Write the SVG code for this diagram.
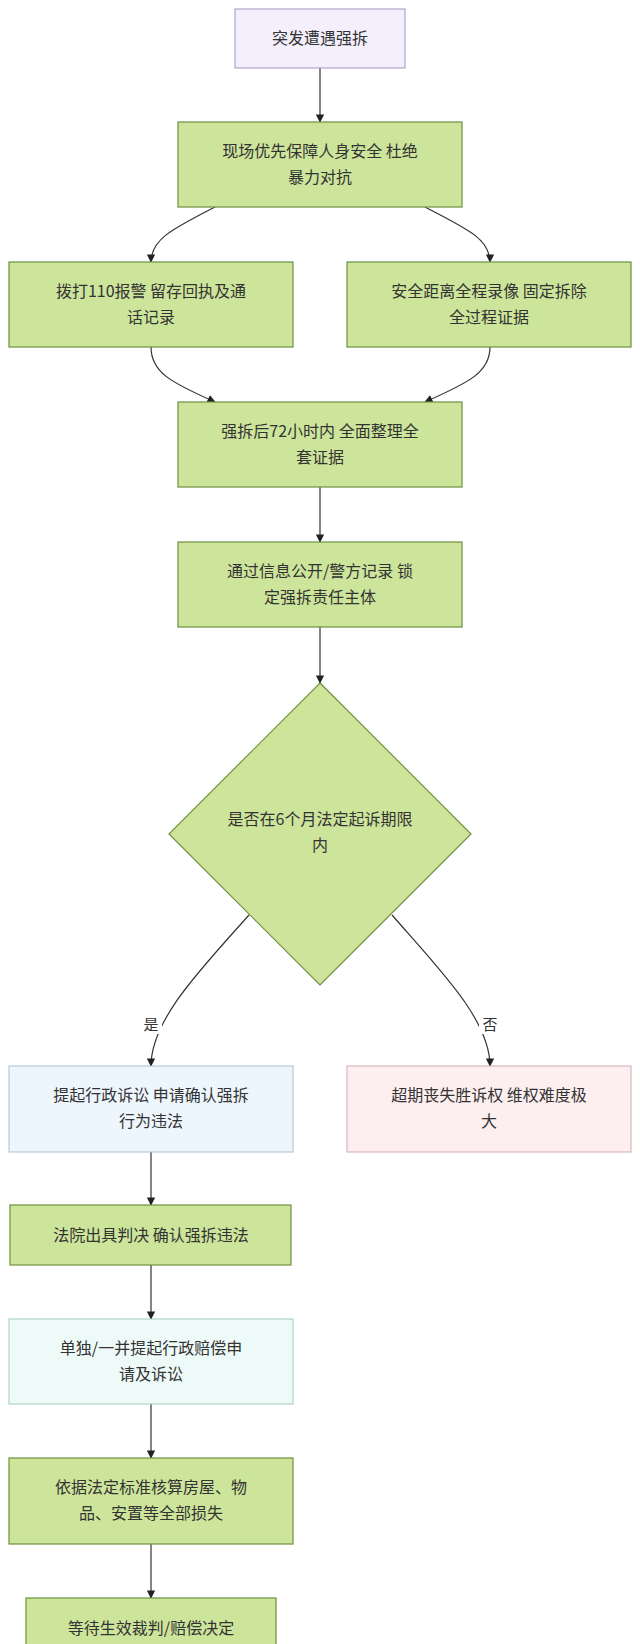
<svg xmlns="http://www.w3.org/2000/svg" width="640" height="1644" viewBox="0 0 640 1644">
<style>
text{font-family:"Noto Sans CJK SC","Liberation Sans",sans-serif;font-size:16px;fill:#333;text-anchor:middle}
.g{fill:#cde59b;stroke:#6f8f3f;stroke-width:1.2}
.e{fill:none;stroke:#333;stroke-width:1.2;marker-end:url(#a)}
.lbl{font-size:15px}
</style>
<defs><marker id="a" viewBox="0 0 10 10" refX="9" refY="5" markerWidth="7" markerHeight="7" orient="auto"><path d="M0,0L10,5L0,10z" fill="#222"/></marker></defs>
<rect width="640" height="1644" fill="#fff"/>
<g id="edges">
<path class="e" d="M320,68V122"/>
<path class="e" d="M215,207C170,230 151,240 151,262"/>
<path class="e" d="M425,207C470,230 490,240 490,262"/>
<path class="e" d="M151,347C151,372 170,382 215,402"/>
<path class="e" d="M490,347C490,372 470,382 425,402"/>
<path class="e" d="M320,487V542"/>
<path class="e" d="M320,627V683"/>
<path class="e" d="M249,915C200,970 151,1020 151,1066"/>
<path class="e" d="M392,915C440,970 490,1020 490,1066"/>
<path class="e" d="M151,1152V1205"/>
<path class="e" d="M151,1265V1319"/>
<path class="e" d="M151,1404V1458"/>
<path class="e" d="M151,1544V1598"/>
<rect x="140" y="1014" width="22" height="20" fill="#fff"/>
<text class="lbl" x="151" y="1030">是</text>
<rect x="479" y="1014" width="22" height="20" fill="#fff"/>
<text class="lbl" x="490" y="1030">否</text>
</g>
<g id="n1"><rect x="235" y="9" width="170" height="59" fill="#f4effc" stroke="#a597bf"/><text x="320" y="44">突发遭遇强拆</text></g>
<g id="n2"><rect class="g" x="178" y="122" width="284" height="85"/><text x="320" y="157">现场优先保障人身安全 杜绝</text><text x="320" y="183">暴力对抗</text></g>
<g id="n3"><rect class="g" x="9" y="262" width="284" height="85"/><text x="151" y="297">拨打110报警 留存回执及通</text><text x="151" y="323">话记录</text></g>
<g id="n4"><rect class="g" x="347" y="262" width="284" height="85"/><text x="489" y="297">安全距离全程录像 固定拆除</text><text x="489" y="323">全过程证据</text></g>
<g id="n5"><rect class="g" x="178" y="402" width="284" height="85"/><text x="320" y="437">强拆后72小时内 全面整理全</text><text x="320" y="463">套证据</text></g>
<g id="n6"><rect class="g" x="178" y="542" width="284" height="85"/><text x="320" y="577">通过信息公开/警方记录 锁</text><text x="320" y="603">定强拆责任主体</text></g>
<g id="n7"><path class="g" d="M320,683L471,834L320,985L169,834z"/><text x="320" y="825">是否在6个月法定起诉期限</text><text x="320" y="851">内</text></g>
<g id="n8"><rect x="9" y="1066" width="284" height="86" fill="#eef6fd" stroke="#a9c0d6"/><text x="151" y="1101">提起行政诉讼 申请确认强拆</text><text x="151" y="1127">行为违法</text></g>
<g id="n9"><rect x="347" y="1066" width="284" height="86" fill="#fdeef0" stroke="#d3aab2"/><text x="489" y="1101">超期丧失胜诉权 维权难度极</text><text x="489" y="1127">大</text></g>
<g id="n10"><rect class="g" x="10" y="1205" width="281" height="60"/><text x="151" y="1241">法院出具判决 确认强拆违法</text></g>
<g id="n11"><rect x="9" y="1319" width="284" height="85" fill="#eefaf7" stroke="#a3cbc2"/><text x="151" y="1354">单独/一并提起行政赔偿申</text><text x="151" y="1380">请及诉讼</text></g>
<g id="n12"><rect class="g" x="9" y="1458" width="284" height="86"/><text x="151" y="1493">依据法定标准核算房屋、物</text><text x="151" y="1519">品、安置等全部损失</text></g>
<g id="n13"><rect class="g" x="26" y="1598" width="250" height="60"/><text x="151" y="1634">等待生效裁判/赔偿决定</text></g>
</svg>
